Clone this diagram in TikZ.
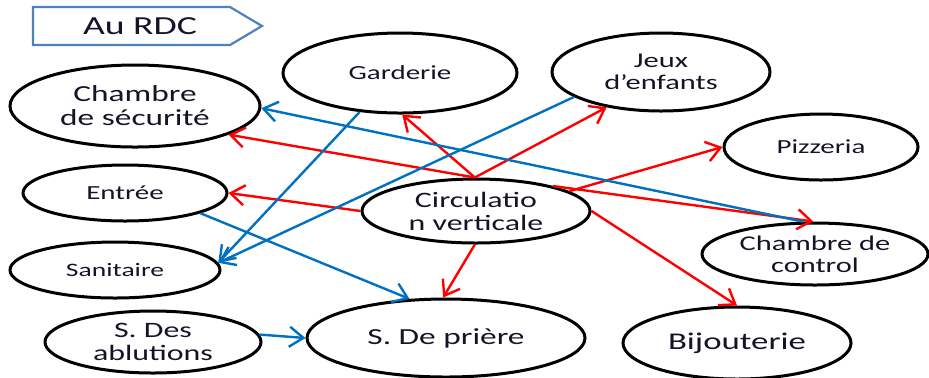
\documentclass[tikz,border=0pt]{standalone}
\usepackage{fontspec}
\setmainfont{Carlito}[FakeStretch=1.45]
\usetikzlibrary{shapes.geometric,arrows.meta}

\definecolor{linkred}{RGB}{255,0,0}
\definecolor{linkblue}{RGB}{0,112,192}
\definecolor{framblue}{RGB}{79,129,189}
\definecolor{inktext}{RGB}{20,20,40}

\newcommand*{\txtsize}[1]{\fontsize{#1}{1.05\dimexpr #1pt\relax}\selectfont}

\begin{document}
\begin{tikzpicture}
[
	x=0.5pt, y=-0.5pt,
	place/.style={ellipse,draw,line width=1.5pt,inner sep=0pt,align=center,text=inktext},
	redlink/.style={draw=linkred,line width=1.2pt,-{Straight Barb[length=7pt,width=10pt]}},
	bluelink/.style={draw=linkblue,line width=1.2pt,-{Straight Barb[length=7pt,width=10pt]}}
]
	\useasboundingbox (0,0) rectangle (929,377);

	% title tag
	\draw[framblue,line width=1.1pt] (33,7) -- (230,7) -- (262,26) -- (230,45) -- (33,45) -- cycle;
	\node[text=inktext,font=\txtsize{13}] (rdc) at (140,26) {Au RDC};

	% rooms
	\node[place,minimum width=125pt,minimum height=41pt,font=\txtsize{11.5}] (secu) at (135,106) {Chambre\\de sécurité};
	\node[place,minimum width=117pt,minimum height=40pt,font=\txtsize{10}] (gard) at (400,73) {Garderie};
	\node[place,minimum width=109pt,minimum height=39pt,font=\txtsize{10.5}] (jeux) at (661,72) {Jeux\\d’enfants};
	\node[place,minimum width=97pt,minimum height=33pt,font=\txtsize{10}] (pizz) at (821,147) {Pizzeria};
	\node[place,minimum width=113pt,minimum height=31pt,font=\txtsize{10.5}] (ctrl) at (815,254) {Chambre de\\control};
	\node[place,minimum width=102pt,minimum height=28pt,font=\txtsize{10}] (entree) at (125,193) {Entrée};
	\node[place,minimum width=105pt,minimum height=28pt,font=\txtsize{9.5}] (sani) at (115,270) {Sanitaire};
	\node[place,minimum width=108pt,minimum height=31pt,font=\txtsize{11}] (ablu) at (153,342) {S. Des\\ablutions};
	\node[place,minimum width=139pt,minimum height=39pt,font=\txtsize{11.5}] (prie) at (446,338) {S. De prière};
	\node[place,minimum width=114pt,minimum height=32pt,font=\txtsize{11}] (circ) at (476,211) {Circulatio\\n verticale};
	\node[place,minimum width=114pt,minimum height=36pt,font=\txtsize{12}] (bijou) at (737,343) {Bijouterie};

	% red links
	\draw[redlink] (circ.92) -- (gard.-87);
	\draw[redlink] (circ.92) -- (jeux.213);
	\draw[redlink] (circ.92) -- (secu.-17);
	\draw[redlink] (circ.west) -- (entree.east);
	\draw[redlink] (circ.12) -- (pizz.west);
	\draw[redlink] (circ.18) -- (ctrl.93);
	\draw[redlink] (circ.268) -- (prie.94);
	\draw[redlink] (circ.east) -- (bijou.north);

	% blue links
	\draw[bluelink] (gard.224) -- (sani.4);
	\draw[bluelink] (jeux.196) -- (sani.4);
	\draw[bluelink] (ctrl.110) -- (secu.-1);
	\draw[bluelink] (entree.-15) -- (prie.133);
	\draw[bluelink] (ablu.4) -- (prie.west);

\end{tikzpicture}
\end{document}
